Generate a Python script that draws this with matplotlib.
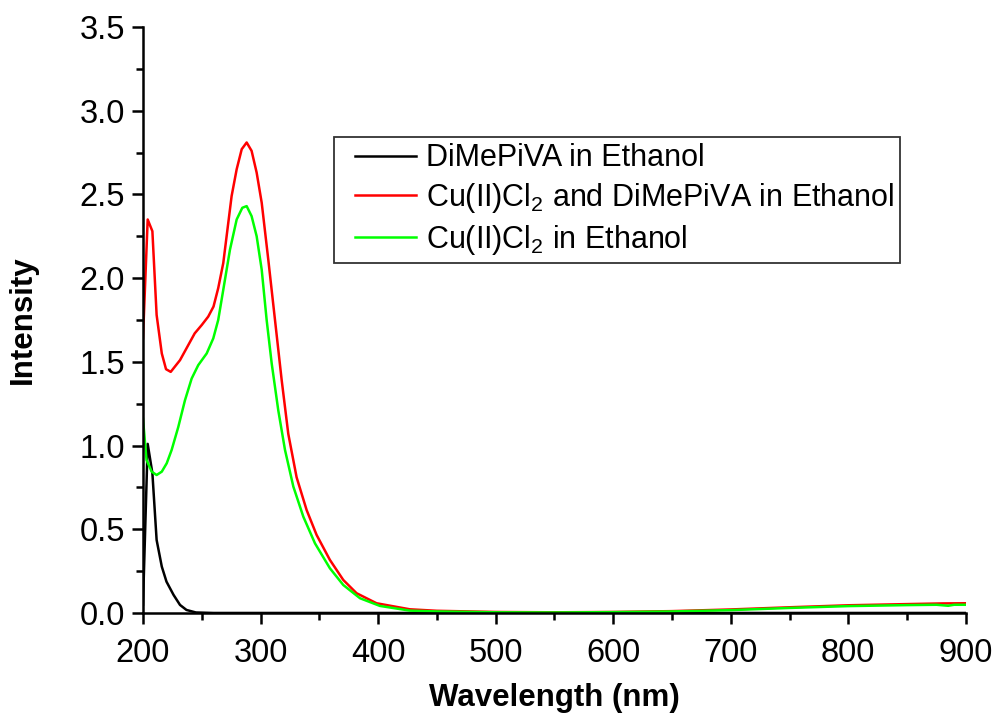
import matplotlib
matplotlib.use("Agg")
import matplotlib.pyplot as plt
from matplotlib.ticker import MultipleLocator
from matplotlib.lines import Line2D
from matplotlib.legend_handler import HandlerLine2D

plt.rcParams['font.family'] = ['Liberation Sans', 'DejaVu Sans']
plt.rcParams['mathtext.fontset'] = 'custom'
plt.rcParams['mathtext.rm'] = 'Liberation Sans'

# DiMePiVA in Ethanol
black_x = [200, 204, 208, 211.6, 216, 220, 226, 231.5, 237, 245, 260, 300, 400, 500, 600, 700, 800, 900]
black_y = [0.05, 1.01, 0.835, 0.436, 0.277, 0.187, 0.108, 0.048, 0.018, 0.003, 0.0, 0.0, 0.0, 0.0, 0.0, 0.0, 0.0, 0.0]

# Cu(II)Cl2 and DiMePiVA in Ethanol
red_x = [200, 204, 208, 211.6, 216, 219.6, 223.6, 231.5, 244, 250, 255.5, 260, 264, 268.3, 275.4, 279.7,
         284, 288.2, 292.4, 296.7, 301, 306.6, 312.3, 318, 323.6, 330.7, 339.2, 347.7, 359, 370.4, 381.7,
         398.7, 427, 450, 500, 550, 600, 650, 700, 750, 800, 850, 880, 900]
red_y = [1.64, 2.35, 2.28, 1.78, 1.55, 1.456, 1.44, 1.51, 1.67, 1.72, 1.77, 1.83, 1.94, 2.09, 2.49, 2.65,
         2.77, 2.81, 2.76, 2.63, 2.45, 2.11, 1.75, 1.39, 1.07, 0.81, 0.615, 0.466, 0.317, 0.197, 0.118,
         0.058, 0.022, 0.013, 0.006, 0.004, 0.006, 0.011, 0.021, 0.034, 0.046, 0.053, 0.057, 0.058]

# Cu(II)Cl2 in Ethanol
green_x = [200, 203, 207.4, 211.6, 216, 220.2, 224.4, 230, 235.7, 241.4, 247, 254.2, 259.8, 264, 268.3,
           274, 279.7, 284.5, 288.2, 292.4, 296.7, 301, 305.2, 309.5, 315.1, 320.8, 327.9, 336.4, 346.3,
           359, 370.4, 384.6, 401.6, 427, 450, 500, 550, 600, 650, 700, 750, 800, 850, 875, 885, 890, 900]
green_y = [1.16, 0.914, 0.844, 0.824, 0.844, 0.894, 0.974, 1.11, 1.27, 1.40, 1.48, 1.55, 1.64, 1.75, 1.93,
           2.17, 2.35, 2.42, 2.43, 2.37, 2.25, 2.05, 1.75, 1.49, 1.21, 0.974, 0.755, 0.575, 0.416,
           0.267, 0.167, 0.088, 0.042, 0.014, 0.009, 0.004, 0.003, 0.005, 0.009, 0.017, 0.030, 0.041, 0.047, 0.049, 0.043, 0.049, 0.049]

labels = ["DiMePiVA in Ethanol",
          r"Cu(II)Cl$_\mathregular{2}$ and DiMePiVA in Ethanol",
          r"Cu(II)Cl$_\mathregular{2}$ in Ethanol"]

fig = plt.figure(figsize=(9.95, 7.15), dpi=100)
ax = fig.add_axes([0.1437, 0.1427, 0.827, 0.8196])

ax.plot(black_x, black_y, color='black', lw=1.8, label=labels[0])
ax.plot(red_x, red_y, color='#ff0000', lw=1.8, label=labels[1])
ax.plot(green_x, green_y, color='#00ff00', lw=1.8, label=labels[2])

ax.set_xlim(200, 900)
ax.set_ylim(0, 3.5)
ax.xaxis.set_major_locator(MultipleLocator(100))
ax.xaxis.set_minor_locator(MultipleLocator(50))
ax.yaxis.set_major_locator(MultipleLocator(0.5))
ax.yaxis.set_minor_locator(MultipleLocator(0.25))
ax.yaxis.set_major_formatter(matplotlib.ticker.FormatStrFormatter('%.1f'))

for s in ['top', 'right']:
    ax.spines[s].set_visible(False)
for s in ['left', 'bottom']:
    ax.spines[s].set_linewidth(1.8)

ax.tick_params(which='major', direction='out', length=8, width=1.8, labelsize=23.5)
ax.tick_params(which='minor', direction='out', length=5, width=1.8)
ax.tick_params(axis='x', which='major', pad=10)
ax.tick_params(axis='y', which='major', pad=5)

ax.set_xlabel("Wavelength (nm)", fontsize=22.5, fontweight='bold', labelpad=10)
ax.set_ylabel("Intensity", fontsize=22.5, fontweight='bold', labelpad=30)

leg = ax.legend(loc='upper right', bbox_to_anchor=(0.92, 0.812), fontsize=22,
                frameon=True, fancybox=False, edgecolor='black', handlelength=2.5,
                handletextpad=0.3, borderpad=0.2, labelspacing=0.25, borderaxespad=0,
                handler_map={Line2D: HandlerLine2D(xpad=0.5)})
leg.get_frame().set_linewidth(1.3)

fig.savefig("out.png", dpi=100)
